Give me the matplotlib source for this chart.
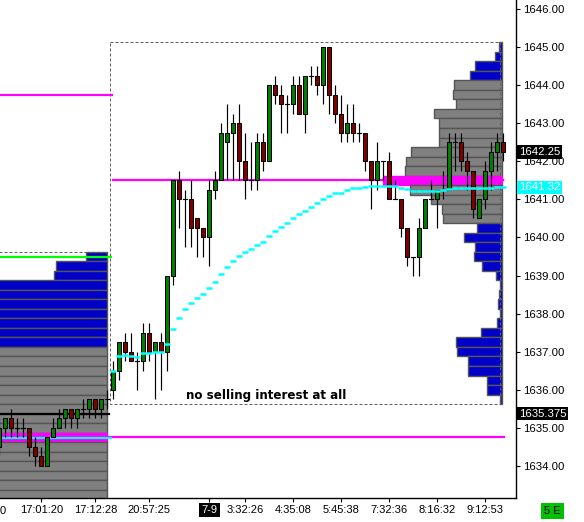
import matplotlib
matplotlib.use("Agg")
import matplotlib.pyplot as plt
from matplotlib.patches import Rectangle
import matplotlib.transforms as mtransforms

# ---------------- data ----------------
opens = [1634.5, 1635.0, 1635.25, 1635.0, 1635.0, 1635.0, 1634.5, 1634.25, 1634.0, 1634.75,
         1635.0, 1635.25, 1635.5, 1635.25, 1635.5, 1635.5, 1635.75, 1635.5, 1635.75,
         1636.0, 1636.5, 1637.25, 1637.0, 1636.75, 1636.75, 1637.5, 1637.0, 1637.25, 1637.0,
         1639.0, 1641.5, 1641.0, 1641.0, 1640.5, 1640.25, 1640.0, 1641.25, 1641.5, 1642.5,
         1642.75, 1643.0, 1642.0, 1641.5, 1641.5, 1642.5, 1642.0, 1644.0, 1643.75, 1643.5,
         1643.5, 1644.0, 1643.25, 1644.25, 1644.25, 1644.0, 1645.0, 1643.75, 1643.25, 1642.75,
         1643.0, 1642.75, 1642.75, 1642.0, 1641.5, 1642.0, 1642.0, 1641.0, 1641.0, 1640.25,
         1639.5, 1639.5, 1640.25, 1641.0, 1641.0, 1641.25, 1641.25, 1642.5, 1642.5, 1642.0,
         1641.75, 1640.5, 1641.0, 1641.75, 1642.25, 1642.5]
highs = [1635.25, 1635.25, 1635.5, 1635.25, 1635.25, 1635.0, 1634.75, 1634.5, 1634.75, 1635.25,
         1635.5, 1635.5, 1635.5, 1635.5, 1635.75, 1635.75, 1635.75, 1635.75, 1636.0,
         1636.75, 1637.25, 1637.5, 1637.5, 1637.0, 1637.75, 1637.75, 1637.25, 1637.5, 1639.0,
         1641.5, 1641.75, 1641.25, 1641.5, 1640.5, 1640.25, 1641.5, 1641.75, 1643.0, 1643.5,
         1643.25, 1643.5, 1642.75, 1642.5, 1642.75, 1642.75, 1644.0, 1644.25, 1644.0, 1643.75,
         1644.25, 1644.25, 1644.25, 1644.5, 1644.5, 1645.0, 1645.0, 1644.0, 1643.75, 1643.5,
         1643.5, 1643.0, 1642.75, 1642.0, 1642.5, 1642.0, 1642.25, 1641.5, 1641.0, 1640.25,
         1639.5, 1640.5, 1641.0, 1641.5, 1641.25, 1641.75, 1642.75, 1642.75, 1642.75, 1642.25,
         1641.75, 1641.0, 1642.0, 1642.5, 1642.75, 1642.75]
lows = [1634.25, 1634.75, 1634.75, 1634.75, 1634.75, 1634.25, 1634.0, 1634.0, 1634.0, 1634.75,
        1635.0, 1635.0, 1635.0, 1635.0, 1635.25, 1635.25, 1635.25, 1635.25, 1635.5,
        1635.75, 1636.25, 1636.75, 1636.75, 1636.0, 1636.5, 1636.75, 1635.75, 1636.0, 1636.5,
        1638.75, 1640.25, 1639.75, 1639.75, 1639.5, 1639.5, 1639.25, 1641.0, 1641.5, 1641.5,
        1641.5, 1641.5, 1641.0, 1641.25, 1641.25, 1641.75, 1642.0, 1643.5, 1642.75, 1642.75,
        1643.25, 1643.25, 1642.75, 1644.0, 1643.75, 1643.5, 1643.25, 1643.0, 1642.5, 1642.5,
        1642.5, 1642.5, 1641.75, 1640.75, 1641.25, 1641.5, 1641.0, 1641.0, 1640.0, 1639.25,
        1639.0, 1639.0, 1640.25, 1641.0, 1640.25, 1641.0, 1641.25, 1641.75, 1641.75, 1641.25,
        1640.5, 1640.5, 1640.75, 1641.25, 1641.75, 1642.0]
closes = [1635.0, 1635.25, 1635.0, 1635.0, 1635.0, 1634.5, 1634.25, 1634.0, 1634.75, 1635.0,
          1635.25, 1635.5, 1635.25, 1635.5, 1635.5, 1635.75, 1635.5, 1635.75, 1635.75,
          1636.5, 1637.25, 1637.0, 1636.75, 1636.75, 1637.5, 1637.0, 1637.25, 1637.0, 1639.0,
          1641.5, 1641.0, 1641.0, 1640.25, 1640.25, 1640.0, 1641.25, 1641.5, 1642.75, 1642.75,
          1643.0, 1642.0, 1641.5, 1641.5, 1642.5, 1642.0, 1644.0, 1643.75, 1643.5, 1643.5,
          1644.0, 1643.25, 1644.25, 1644.25, 1644.0, 1645.0, 1643.75, 1643.25, 1642.75, 1643.0,
          1642.75, 1642.75, 1642.0, 1641.5, 1642.0, 1642.0, 1641.0, 1641.0, 1640.25, 1639.5,
          1639.5, 1640.25, 1641.0, 1641.0, 1641.25, 1641.25, 1642.5, 1642.5, 1642.0, 1641.75,
          1640.75, 1641.0, 1641.75, 1642.25, 1642.5, 1642.25]

session_start = 19
vwap = [1636.49, 1636.89, 1636.92, 1636.90, 1636.87, 1636.96, 1636.96, 1637.00, 1637.00, 1637.20,
        1637.60, 1637.89, 1638.12, 1638.29, 1638.42, 1638.51, 1638.68, 1638.84, 1639.04, 1639.23,
        1639.39, 1639.52, 1639.61, 1639.69, 1639.80, 1639.89, 1640.05, 1640.18, 1640.28, 1640.39,
        1640.52, 1640.61, 1640.70, 1640.81, 1640.91, 1641.02, 1641.10, 1641.16, 1641.18, 1641.24,
        1641.29, 1641.31, 1641.33, 1641.34, 1641.34, 1641.36, 1641.36, 1641.35, 1641.31, 1641.27,
        1641.23, 1641.23, 1641.23, 1641.23, 1641.23, 1641.25, 1641.27, 1641.29, 1641.29, 1641.29,
        1641.29, 1641.30, 1641.31, 1641.31, 1641.32, 1641.33]

# current-session volume profile (price levels top->bottom)
prof_prices = [1645.0, 1644.75, 1644.5, 1644.25, 1644.0, 1643.75, 1643.5, 1643.25, 1643.0, 1642.75,
               1642.5, 1642.25, 1642.0, 1641.75, 1641.5, 1641.25, 1641.0, 1640.75, 1640.5, 1640.25,
               1640.0, 1639.75, 1639.5, 1639.25, 1639.0, 1638.75, 1638.5, 1638.25, 1638.0, 1637.75,
               1637.5, 1637.25, 1637.0, 1636.75, 1636.5, 1636.25, 1636.0, 1635.75]
prof_vol = [3.6, 7.0, 27.6, 32.6, 48.0, 49.0, 46.0, 68.0, 63.0, 63.6,
            63.0, 91.0, 96.0, 97.0, 119.6, 92.0, 71.6, 60.3, 59.0, 25.0,
            38.0, 27.0, 28.0, 20.0, 6.0, 2.0, 3.0, 4.0, 2.0, 5.0,
            21.0, 46.0, 45.0, 34.0, 34.0, 15.0, 15.0, 2.0]
prof_va = (1640.5, 1644.0)
prof_poc = 1641.5

# previous-session profile (visible part)
prev_prices = [1639.5, 1639.25, 1639.0, 1638.75, 1638.5, 1638.25, 1638.0, 1637.75, 1637.5, 1637.25,
               1637.0, 1636.75, 1636.5, 1636.25, 1636.0, 1635.75, 1635.5, 1635.25, 1635.0, 1634.75,
               1634.5, 1634.25, 1634.0, 1633.75, 1633.5, 1633.25]
prev_vol = [21.0, 51.0, 53.0, 120.0, 125.0, 130.0, 132.0, 135.0, 138.0, 140.0,
            150.0, 155.0, 160.0, 165.0, 168.0, 170.0, 175.0, 180.0, 185.0, 190.0,
            185.0, 178.0, 170.0, 160.0, 150.0, 140.0]
prev_va_high = 1637.0
prev_poc = 1634.75

prev_high_line = 1643.75
prev_vah_line = 1639.5
prev_close_line = 1635.375
prev_poc_line = 1634.75
prev_vwap_line = 1634.73
prev_box_top = 1639.625
box_low, box_high = 1635.625, 1645.125

xtick_idx = [7, 16, 25, 35, 41, 49, 57, 65, 73, 81]
xtick_lbl = ["17:01:20", "17:12:28", "20:57:25", "7-9", "3:32:26", "4:35:08",
             "5:45:38", "7:32:36", "8:16:32", "9:12:53"]
ytick_vals = [1634, 1635, 1636, 1637, 1638, 1639, 1640, 1641, 1642, 1643, 1644, 1645, 1646]

last_price = 1642.25
vwap_label = 1641.32
close_label = 1635.375
note = "no selling interest at all"

# ---------------- styling ----------------
FONT = "Liberation Sans"
GREEN = "#008000"
RED = "#800000"
BLUE = "#0000c8"
GRAY = "#808080"
EDGE = "#555555"
MAG = "#ff00ff"
CYAN = "#00ffff"
LIME = "#00ff00"

W, H = 584, 522
fig = plt.figure(figsize=(W / 100, H / 100), dpi=100)
ax = fig.add_axes([0, 24 / H, 516 / W, 498 / H])
ax.set_xlim(0.117, 86.117)
ax.set_ylim(1633.159, 1646.236)
px = 1 / 6.0           # one pixel in x data units
lw1 = 0.72             # one pixel in points
tick = 0.25

# previous session profile
prev_right = 17.95
for p, v in zip(prev_prices, prev_vol):
    if p == prev_poc:
        fc = MAG
        ec = MAG
    elif p > prev_va_high:
        fc = BLUE
        ec = EDGE
    else:
        fc = GRAY
        ec = EDGE
    ax.add_patch(Rectangle((prev_right - v * px, p - tick / 2), v * px, tick,
                           facecolor=fc, edgecolor=ec, lw=1.0, zorder=1))

# current session profile
prof_right = 83.83
for p, v in zip(prof_prices, prof_vol):
    if p == prof_poc:
        fc, ec = MAG, MAG
    elif prof_va[0] <= p <= prof_va[1]:
        fc, ec = GRAY, EDGE
    else:
        fc, ec = BLUE, EDGE
    ax.add_patch(Rectangle((prof_right - v * px, p - tick / 2), v * px, tick,
                           facecolor=fc, edgecolor=ec, lw=1.0, zorder=1))

# range boxes (dashed)
dash = dict(color="#606060", lw=lw1, linestyle=(0, (3, 2)), zorder=2)
ax.plot([18.5, 83.45, 83.45, 18.5, 18.5], [box_high, box_high, box_low, box_low, box_high], **dash)
ax.plot([0, prev_right], [prev_box_top, prev_box_top], **dash)

# reference lines
ax.plot([0, 18.8], [prev_high_line, prev_high_line], color=MAG, lw=1.6, zorder=2)
ax.plot([0, 18.7], [prev_vah_line, prev_vah_line], color=LIME, lw=1.6, zorder=2)
ax.plot([0, 18.3], [prev_close_line, prev_close_line], color="black", lw=1.6, zorder=2)
ax.plot([0, 84.1], [prev_poc_line, prev_poc_line], color=MAG, lw=1.6, zorder=2)
ax.plot([0, 18.6], [prev_vwap_line, prev_vwap_line], color=CYAN, lw=1.6, zorder=2)
ax.plot([session_start, 84], [prof_poc, prof_poc], color=MAG, lw=1.6, zorder=2)

# candles
bw = 0.62
for i, (o, h, l, c) in enumerate(zip(opens, highs, lows, closes)):
    ax.plot([i, i], [l, h], color="black", lw=0.85, zorder=3, solid_capstyle="butt")
    if c == o:
        ax.plot([i - 0.36, i + 0.36], [c, c], color="black", lw=0.85, zorder=4)
    else:
        fc = GREEN if c > o else RED
        ax.add_patch(Rectangle((i - bw / 2, min(o, c)), bw, abs(c - o),
                               facecolor=fc, edgecolor="black", lw=0.75, zorder=4))

# vwap dashes
for k, v in enumerate(vwap):
    i = session_start + k
    ax.plot([i - 0.5, i + 0.5], [v, v], color=CYAN, lw=1.8, zorder=5, solid_capstyle="butt")

# note
ax.text(31.2, 1635.86, note, fontsize=8.6, fontweight="bold", family="DejaVu Sans",
        ha="left", va="center", zorder=6)

# axes styling
for s in ["left", "top"]:
    ax.spines[s].set_visible(False)
ax.spines["right"].set_linewidth(1.0)
ax.spines["bottom"].set_linewidth(1.0)
ax.set_facecolor("white")
ax.yaxis.tick_right()
ax.set_yticks(ytick_vals)
ax.set_yticklabels([f"{v:.2f}" for v in ytick_vals])
ax.tick_params(axis="y", length=3, width=0.8, pad=2, labelsize=8.2)
ax.set_xticks(xtick_idx)
ax.set_xticklabels(xtick_lbl)
ax.tick_params(axis="x", length=3, width=0.8, pad=2, labelsize=8.0)
for t in ax.get_xticklabels() + ax.get_yticklabels():
    t.set_family(FONT)
for t in ax.get_xticklabels():
    if t.get_text() == "7-9":
        t.set_color("white")
        t.set_bbox(dict(boxstyle="square,pad=0.2", fc="black", ec="none"))

# price flags on the right
trans = mtransforms.blended_transform_factory(ax.transAxes, ax.transData)
for val, txt, bg in [(last_price, f"{last_price:.2f}", "black"),
                     (vwap_label, f"{vwap_label:.2f}", CYAN),
                     (close_label, f"{close_label:.3f}", "black")]:
    ax.text(1.006, val, txt, transform=trans, ha="left", va="center", color="white",
            fontsize=8.2, family=FONT, clip_on=False, zorder=10,
            bbox=dict(boxstyle="square,pad=0.15", fc=bg, ec="none"))

# bottom-left partial label and bottom-right badge
fig.text(0.0, 1 - 511 / H, "0", fontsize=8.0, family=FONT, ha="left", va="center")
fig.text(552.5 / W, 1 - 511 / H, "5 E", fontsize=8.0, family=FONT, ha="center", va="center",
         bbox=dict(boxstyle="square,pad=0.25", fc="#00c000", ec="none"))

fig.savefig("out.png", dpi=100, facecolor="white")
